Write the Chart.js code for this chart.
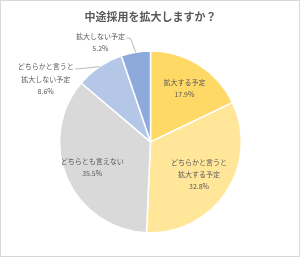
<!DOCTYPE html>
<html>
<head>
<meta charset="utf-8">
<script src="https://cdn.jsdelivr.net/npm/chart.js@4/dist/chart.umd.min.js"></script>
<style>
html,body{margin:0;padding:0;background:#fff;}
#wrap{position:relative;width:300px;height:257px;}
</style>
</head>
<body>
<div id="wrap"><canvas id="c"></canvas></div>
<script>
const titleText = "中途採用を拡大しますか？";
const categories = [
  ["拡大する予定"],
  ["どちらかと言うと", "拡大する予定"],
  ["どちらとも言えない"],
  ["どちらかと言うと", "拡大しない予定"],
  ["拡大しない予定"]
];
const values = [17.9, 32.8, 35.5, 8.6, 5.2];
const sliceColors = ["#FFD966", "#FFE699", "#D9D9D9", "#B4C7E7", "#8EA9DB"];

// label placement per slice (radius factor, angle shift in degrees, outside with leader?)
const labelPlacement = [
  {k: 0.70, shift: 0, leader: false},
  {k: 0.64, shift: 0, leader: false},
  {k: 0.70, shift: 0, leader: false},
  {k: 1.343, shift: -25, leader: true},
  {k: 1.224, shift: -17.4, leader: true}
];

const frame = {
  id: 'frame',
  beforeDraw(chart) {
    const ctx = chart.ctx;
    ctx.save();
    ctx.fillStyle = '#fff';
    ctx.fillRect(0, 0, chart.width, chart.height);
    ctx.restore();
  },
  afterDraw(chart) {
    const ctx = chart.ctx;
    ctx.save();
    ctx.strokeStyle = '#D9D9D9';
    ctx.lineWidth = 1;
    ctx.strokeRect(0.5, 0.5, chart.width - 1, chart.height - 1);
    ctx.restore();
  }
};

const sliceLabels = {
  id: 'sliceLabels',
  afterDatasetsDraw(chart) {
    const ctx = chart.ctx;
    const meta = chart.getDatasetMeta(0);
    const ds = chart.data.datasets[0];
    ctx.save();
    ctx.font = '7px "Noto Sans CJK JP", "Noto Sans", sans-serif';
    ctx.fillStyle = '#595959';
    ctx.textAlign = 'center';
    ctx.textBaseline = 'middle';
    meta.data.forEach((arc, i) => {
      const p = arc.getProps(['x', 'y', 'startAngle', 'endAngle', 'outerRadius'], true);
      const mid = (p.startAngle + p.endAngle) / 2;
      const pl = labelPlacement[i];
      const a = mid + pl.shift * Math.PI / 180;
      const cx = p.x + Math.cos(a) * p.outerRadius * pl.k;
      const cy = p.y + Math.sin(a) * p.outerRadius * pl.k;
      const lines = chart.data.labels[i].concat([ds.data[i].toFixed(1) + '%']);
      const lh = pl.leader ? 12.5 : 12;
      const y0 = cy - (lines.length - 1) * lh / 2;
      lines.forEach((t, j) => ctx.fillText(t, cx, y0 + j * lh));
      if (pl.leader) {
        const w = ctx.measureText(lines[0]).width;
        const sx = cx + w / 2 + 1.5;
        const sy = y0 + 2;
        const ex = p.x + Math.cos(mid) * p.outerRadius;
        const ey = p.y + Math.sin(mid) * p.outerRadius;
        ctx.beginPath();
        ctx.strokeStyle = '#A6A6A6';
        ctx.lineWidth = 0.8;
        ctx.moveTo(sx, sy);
        ctx.lineTo(sx + 4, sy);
        ctx.lineTo(ex, ey);
        ctx.stroke();
      }
    });
    ctx.restore();
  }
};

new Chart(document.getElementById('c'), {
  type: 'pie',
  data: {
    labels: categories,
    datasets: [{
      data: values,
      backgroundColor: sliceColors,
      borderColor: '#FFFFFF',
      borderWidth: 1.5,
      hoverOffset: 0,
      offset: 0
    }]
  },
  options: {
    responsive: true,
    maintainAspectRatio: false,
    animation: false,
    layout: { padding: { top: 0, bottom: 23.5, left: 1, right: 0 } },
    plugins: {
      legend: { display: false },
      tooltip: { enabled: false },
      title: {
        display: true,
        text: titleText,
        color: '#595959',
        font: { family: '"Noto Sans CJK JP", sans-serif', size: 11, weight: 'bold', lineHeight: 1.2 },
        padding: { top: 10, bottom: 27 }
      }
    }
  },
  plugins: [frame, sliceLabels]
});
</script>
</body>
</html>
